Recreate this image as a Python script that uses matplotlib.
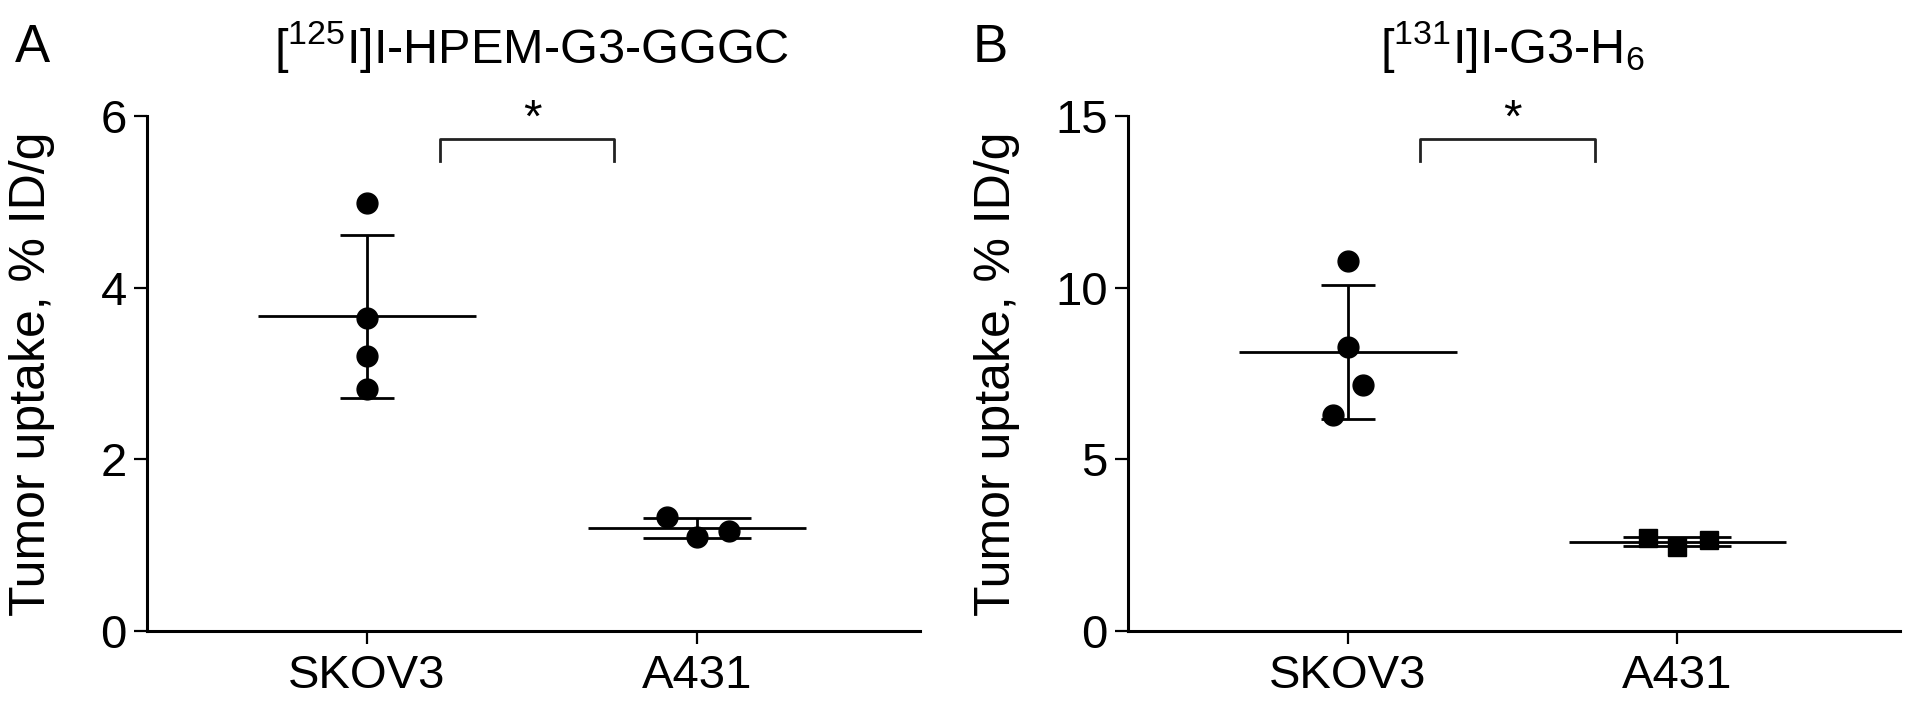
import numpy as np
import matplotlib
matplotlib.use("Agg")
import matplotlib.pyplot as plt
import matplotlib.transforms as transforms

plt.rcParams['font.family'] = ['Liberation Sans', 'DejaVu Sans']

groups = ["SKOV3", "A431"]

# tumor uptake, % ID/g (individual animals)
a_skov3 = [4.99, 3.65, 3.20, 2.82]
a_a431 = [1.33, 1.10, 1.17]
b_skov3 = [10.78, 8.27, 7.17, 6.29]
b_a431 = [2.71, 2.45, 2.65]

titles = [r"[$\mathregular{^{125}}$I]I-HPEM-G3-GGGC", r"[$\mathregular{^{131}}$I]I-G3-H$\mathregular{_6}$"]
panel_letters = ["A", "B"]
y_max = [6, 15]
y_ticks = [[0, 2, 4, 6], [0, 5, 10, 15]]


def draw_group(ax, x, values, jitter, marker, msize, capsize):
    values = np.asarray(values)
    mean = values.mean()
    sd = values.std(ddof=1)
    ax.hlines(mean, x - 0.33, x + 0.33, color="black", lw=2.0, zorder=2)
    ax.errorbar([x], [mean], yerr=[sd], fmt="none", ecolor="black",
                elinewidth=2.0, capsize=capsize, capthick=2.0, zorder=2)
    ax.plot(x + np.asarray(jitter), values, linestyle="none", marker=marker,
            markersize=msize, color="black", zorder=3, clip_on=False)


def draw_panel(ax, i, skov3, a431, a431_marker, a431_msize, jit_s, jit_a):
    draw_group(ax, 0, skov3, jit_s, "o", 15, 19.5)
    draw_group(ax, 1, a431, jit_a, a431_marker, a431_msize, 39)

    ax.set_xlim(-0.667, 1.676)
    ax.set_ylim(0, y_max[i])
    ax.set_yticks(y_ticks[i])
    ax.set_xticks([0, 1])
    ax.set_xticklabels(groups)
    for s in ["top", "right"]:
        ax.spines[s].set_visible(False)
    for s in ["left", "bottom"]:
        ax.spines[s].set_linewidth(2.2)
    ax.tick_params(axis="y", length=9.5, width=1.6, labelsize=34, pad=5)
    ax.tick_params(axis="x", length=9.5, width=1.6, labelsize=34, pad=7)
    ax.set_ylabel("Tumor uptake, % ID/g", fontsize=36)

    # significance bracket
    trans = transforms.blended_transform_factory(ax.transData, ax.transAxes)
    ax.plot([0.22, 0.22, 0.75, 0.75], [0.913, 0.955, 0.955, 0.913], color="#222222",
            lw=2.0, transform=trans, clip_on=False)
    ax.text(0.5, 0.969, "*", transform=trans, ha="center", va="baseline", fontsize=34)
    ax.text(0.5, 1.103, titles[i], transform=trans, ha="center", va="baseline", fontsize=35)


fig = plt.figure(figsize=(19.13, 7.10), dpi=100)
ax_a = fig.add_axes([147 / 1913, 79 / 710, 773 / 1913, 515 / 710])
ax_b = fig.add_axes([1128 / 1913, 79 / 710, 772 / 1913, 515 / 710])

draw_panel(ax_a, 0, a_skov3, a_a431, "o", 15, [0, 0, 0, 0], [-0.09, 0, 0.097])
draw_panel(ax_b, 1, b_skov3, b_a431, "s", 13, [0, 0, 0.046, -0.046], [-0.09, 0, 0.097])

ax_a.yaxis.set_label_coords(-0.119, 0.5)
ax_b.yaxis.set_label_coords(-0.140, 0.5)

fig.text(32 / 1913, 1 - 62 / 710, panel_letters[0], fontsize=38, ha="center", va="baseline")
fig.text(990 / 1913, 1 - 62 / 710, panel_letters[1], fontsize=38, ha="center", va="baseline")

fig.savefig("out.png", dpi=100)
